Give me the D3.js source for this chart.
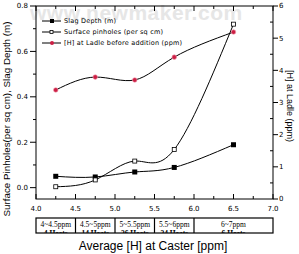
<!DOCTYPE html>
<html>
<head>
<meta charset="utf-8">
<script src="https://cdn.jsdelivr.net/npm/d3@7"></script>
<style>
  body { margin: 0; background: #fff; }
  svg { display: block; }
</style>
</head>
<body>
<svg id="chart" width="299" height="254"></svg>
<script>
const caster = [4.25, 4.75, 5.25, 5.75, 6.5]
const slagDepth = [0.05, 0.047, 0.069, 0.089, 0.189]
const pinholes = [0.004, 0.034, 0.117, 0.168, 0.72]
const ladleH = [3.39, 3.79, 3.70, 4.41, 5.19]
const legendNames = ['Slag Depth (m)', 'Surface pinholes (per sq cm)', '[H] at Ladle before addition (ppm)']
const bins = [4.0, 4.5, 5.0, 5.5, 6.0, 7.0]
const binRange = ['4~4.5ppm', '4.5~5ppm', '5~5.5ppm', '5.5~6ppm', '6~7ppm']
const binHeats = ['4 Heats', '14 Heats', '26 Heats', '24 Heats', '6 Heats']
const xTicks = [4.0, 4.5, 5.0, 5.5, 6.0, 6.5, 7.0]
const yTicks = [0.0, 0.2, 0.4, 0.6, 0.8]
const y2Ticks = [0, 1, 2, 3, 4, 5, 6]

const svg = d3.select('#chart')
const mLeft = 36, mRight = 273, mTop = 6, mBottom = 199
const red = '#cc1e44'

const x = d3.scaleLinear().domain([4, 7]).range([mLeft, mRight])
const y = d3.scaleLinear().domain([-0.05, 0.8]).range([mBottom, mTop])
const y2 = d3.scaleLinear().domain([0, 6]).range([mBottom, mTop])

// watermark
svg.append('text').attr('x', 30).attr('y', 20)
    .attr('font-family', 'Liberation Sans, Arial').attr('font-weight', 'bold').attr('font-size', 21)
    .attr('fill', '#e6e6e6').attr('letter-spacing', 0.5)
    .text('www.newmaker.com')

// frame
svg.append('rect').attr('x', mLeft).attr('y', mTop).attr('width', mRight - mLeft).attr('height', mBottom - mTop)
    .attr('fill', 'none').attr('stroke', '#000').attr('stroke-width', 1)

const tickFont = 'DejaVu Sans, sans-serif'
const g = svg.append('g').attr('stroke', '#000').attr('stroke-width', 1)

// left axis ticks (outward)
d3.range(0, 9).map(i => i / 10).forEach(v => {
    const major = Math.round(v * 10) % 2 === 0
    g.append('line').attr('x1', mLeft).attr('x2', mLeft - (major ? 6 : 3)).attr('y1', y(v)).attr('y2', y(v))
})
svg.selectAll('text.yl').data(yTicks).join('text').attr('class', 'yl')
    .attr('x', 28).attr('y', d => y(d)).attr('dy', '0.35em').attr('text-anchor', 'end')
    .attr('font-family', tickFont).attr('font-size', 7).text(d => d.toFixed(1))

// right axis ticks
d3.range(0, 13).map(i => i / 2).forEach(v => {
    const major = Number.isInteger(v)
    if (major) g.append('line').attr('x1', mRight).attr('x2', mRight + 5).attr('y1', y2(v)).attr('y2', y2(v))
    else g.append('line').attr('x1', mRight).attr('x2', mRight - 3).attr('y1', y2(v)).attr('y2', y2(v))
})
svg.selectAll('text.y2l').data(y2Ticks).join('text').attr('class', 'y2l')
    .attr('x', 279).attr('y', d => y2(d)).attr('dy', '0.35em')
    .attr('font-family', tickFont).attr('font-size', 7).text(d => d)

// bottom + top ticks (inward)
d3.range(0, 13).map(i => 4 + i / 4).forEach(v => {
    const major = Math.round(v * 4) % 2 === 0
    const len = major ? 5 : 3
    g.append('line').attr('x1', x(v)).attr('x2', x(v)).attr('y1', mBottom).attr('y2', mBottom - len)
    g.append('line').attr('x1', x(v)).attr('x2', x(v)).attr('y1', mTop).attr('y2', mTop + len)
})
svg.selectAll('text.xl').data(xTicks).join('text').attr('class', 'xl')
    .attr('x', d => x(d)).attr('y', 211).attr('text-anchor', 'middle')
    .attr('font-family', tickFont).attr('font-size', 7).text(d => d.toFixed(1))

// axis titles
svg.append('text').attr('transform', 'translate(10,119) rotate(-90)').attr('text-anchor', 'middle')
    .attr('font-family', 'Liberation Sans, Arial').attr('font-size', 9.8)
    .text('Surface Pinholes(per sq cm), Slag Depth (m)')
svg.append('text').attr('transform', 'translate(287,106) rotate(90)').attr('text-anchor', 'middle')
    .attr('font-family', 'Liberation Sans, Arial').attr('font-size', 9)
    .text('[H] at Ladle (ppm)')
svg.append('text').attr('x', 153).attr('y', 250).attr('text-anchor', 'middle')
    .attr('font-family', 'Liberation Sans, Arial').attr('font-size', 12)
    .text('Average [H] at Caster [ppm]')

// curves
const curve = d3.curveNatural
const lineL = d3.line().x(d => x(d[0])).y(d => y(d[1])).curve(curve)
const lineR = d3.line().x(d => x(d[0])).y(d => y2(d[1])).curve(curve)
const slagPts = caster.map((c, i) => [c, slagDepth[i]])
const pinPts = caster.map((c, i) => [c, pinholes[i]])
const ladPts = caster.map((c, i) => [c, ladleH[i]])

const plot = svg.append('g')
plot.append('path').attr('d', lineL(slagPts)).attr('fill', 'none').attr('stroke', '#000').attr('stroke-width', 1)
plot.append('path').attr('d', lineL(pinPts)).attr('fill', 'none').attr('stroke', '#000').attr('stroke-width', 1)
plot.append('path').attr('d', lineR(ladPts)).attr('fill', 'none').attr('stroke', '#000').attr('stroke-width', 1)

plot.selectAll('rect.slag').data(slagPts).join('rect').attr('class', 'slag')
    .attr('x', d => x(d[0]) - 2.5).attr('y', d => y(d[1]) - 2.5).attr('width', 5).attr('height', 5).attr('fill', '#000')
plot.selectAll('rect.pin').data(pinPts).join('rect').attr('class', 'pin')
    .attr('x', d => x(d[0]) - 2).attr('y', d => y(d[1]) - 2).attr('width', 4).attr('height', 4)
    .attr('fill', '#fff').attr('stroke', '#000').attr('stroke-width', 0.8)
plot.selectAll('circle.lad').data(ladPts).join('circle').attr('class', 'lad')
    .attr('cx', d => x(d[0])).attr('cy', d => y2(d[1])).attr('r', 2.3)
    .attr('fill', red).attr('stroke', '#f0a0b0').attr('stroke-width', 0.6)

// legend
const leg = svg.append('g')
const legY = [21, 32, 43]
legendNames.forEach((name, i) => {
    leg.append('line').attr('x1', 42).attr('x2', 61).attr('y1', legY[i]).attr('y2', legY[i])
        .attr('stroke', '#000').attr('stroke-width', 1)
    if (i === 0) leg.append('rect').attr('x', 50).attr('y', legY[i] - 2).attr('width', 4).attr('height', 4).attr('fill', '#000')
    if (i === 1) leg.append('rect').attr('x', 50).attr('y', legY[i] - 1.5).attr('width', 3).attr('height', 3)
        .attr('fill', '#fff').attr('stroke', '#000').attr('stroke-width', 0.8)
    if (i === 2) leg.append('circle').attr('cx', 52).attr('cy', legY[i]).attr('r', 2).attr('fill', red)
    leg.append('text').attr('x', 64).attr('y', legY[i]).attr('dy', '0.35em')
        .attr('font-family', tickFont).attr('font-size', 6.5).attr('letter-spacing', 0.2).text(name)
})

// table under the axis
const tTop = 218, tBot = 233
svg.append('clipPath').attr('id', 'tclip').append('rect')
    .attr('x', mLeft).attr('y', tTop).attr('width', mRight - mLeft).attr('height', tBot - tTop)
const tbl = svg.append('g')
tbl.append('rect').attr('x', mLeft).attr('y', tTop).attr('width', mRight - mLeft).attr('height', tBot - tTop)
    .attr('fill', 'none').attr('stroke', '#000').attr('stroke-width', 1.2)
bins.slice(1, -1).forEach(b => {
    tbl.append('line').attr('x1', x(b)).attr('x2', x(b)).attr('y1', tTop).attr('y2', tBot)
        .attr('stroke', '#000').attr('stroke-width', 1.2)
})
const tt = tbl.append('g').attr('clip-path', 'url(#tclip)')
binRange.forEach((r, i) => {
    const cx = (x(bins[i]) + x(bins[i + 1])) / 2
    tt.append('text').attr('x', cx).attr('y', 227).attr('text-anchor', 'middle')
        .attr('font-family', 'Liberation Serif, serif').attr('font-size', 7.5).text(r)
    tt.append('text').attr('x', cx).attr('y', 236).attr('text-anchor', 'middle')
        .attr('font-family', 'Liberation Serif, serif').attr('font-size', 7.5).attr('font-weight', 'bold').text(binHeats[i])
})
</script>
</body>
</html>
